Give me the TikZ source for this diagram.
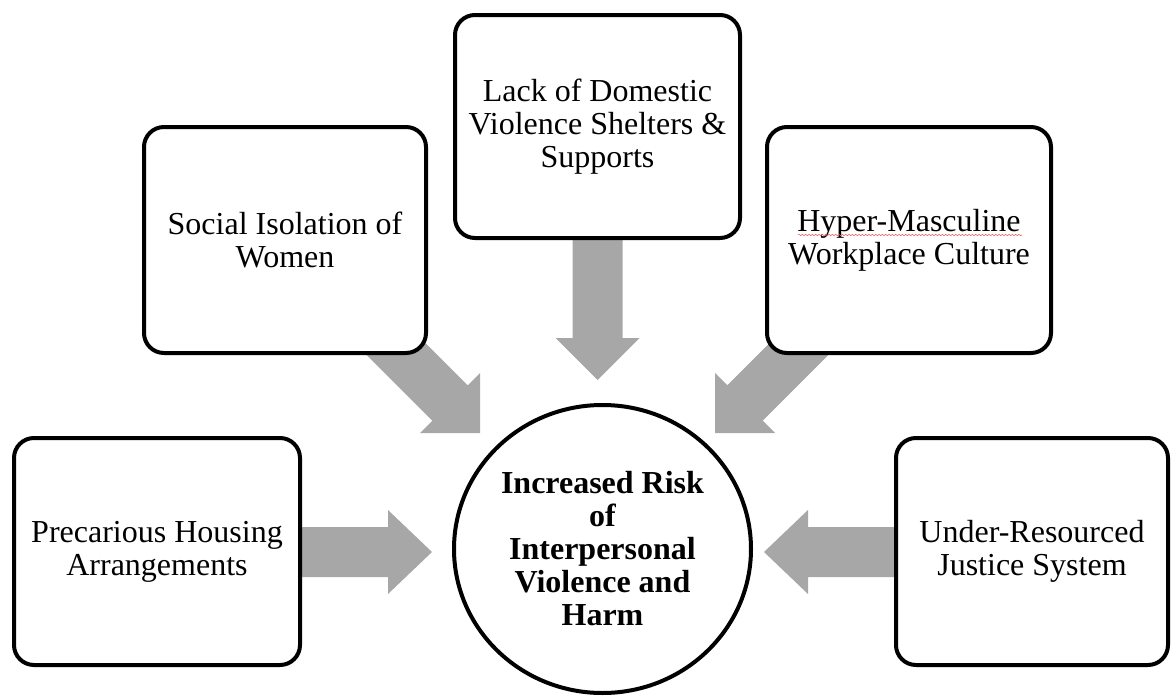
\documentclass[tikz,border=0pt]{standalone}
\usepackage{fontspec}
\setmainfont{Liberation Serif}
\usetikzlibrary{shapes.geometric,decorations.pathmorphing}
\definecolor{arrowgray}{RGB}{167,167,167}
\definecolor{squiggle}{RGB}{235,90,90}
\tikzset{
  causebox/.style={draw=black, line width=3pt, rounded corners=15pt, fill=white,
    align=center, inner sep=0pt, font=\fontsize{24}{24.75}\selectfont},
  centrecircle/.style={draw=black, line width=3pt, ellipse, fill=white,
    align=center, inner sep=0pt, font=\fontsize{24}{24.75}\selectfont\bfseries},
  blockarrow/.style={fill=arrowgray, draw=none}
}
\begin{document}
\begin{tikzpicture}[x=0.75pt,y=-0.75pt]
\useasboundingbox (0,0) rectangle (1172,696);
% block arrows (drawn first, under the boxes)
% left diagonal
\fill[blockarrow] (352.3,340.7) -- (432.3,420.7) -- (420,433) -- (480,433) -- (480,373) -- (467.7,385.3) -- (387.7,305.3) -- cycle;
% right diagonal
\fill[blockarrow] (842.7,340.7) -- (762.7,420.7) -- (775,433) -- (715,433) -- (715,373) -- (727.3,385.3) -- (807.3,305.3) -- cycle;
% vertical
\fill[blockarrow] (572.5,225) -- (572.5,338) -- (555.5,338) -- (597.5,380) -- (639.5,338) -- (622.5,338) -- (622.5,225) -- cycle;
% left horizontal
\fill[blockarrow] (285,527) -- (388,527) -- (388,510) -- (432,552) -- (388,594) -- (388,577) -- (285,577) -- cycle;
% right horizontal
\fill[blockarrow] (910,527) -- (808,527) -- (808,510) -- (764,552) -- (808,594) -- (808,577) -- (910,577) -- cycle;
% boxes
\node[causebox, minimum width=211.5pt, minimum height=169.5pt] (social) at (285,240) {Social Isolation of\\Women};
\node[causebox, minimum width=213.75pt, minimum height=167.25pt] (shelter) at (597.5,126.5) {Lack of Domestic\\Violence Shelters \&\\Supports};
\node[causebox, minimum width=213pt, minimum height=169.5pt] (hyper) at (909,240) {Hyper-Masculine\\Workplace Culture};
\node[causebox, minimum width=214.5pt, minimum height=170.25pt] (housing) at (157,551.5) {Precarious Housing\\Arrangements};
\node[causebox, minimum width=204pt, minimum height=170.25pt] (justice) at (1032,551.5) {Under-Resourced\\Justice System};
\node[centrecircle, minimum width=222.75pt, minimum height=216pt] (risk) at (602.5,549) {Increased Risk\\of\\Interpersonal\\Violence and\\Harm};
% spell-check squiggle
\draw[squiggle, line width=0.4pt, decorate, decoration={snake, amplitude=0.5pt, segment length=2.5pt}] (798,235) -- (1022,235);
\end{tikzpicture}
\end{document}
